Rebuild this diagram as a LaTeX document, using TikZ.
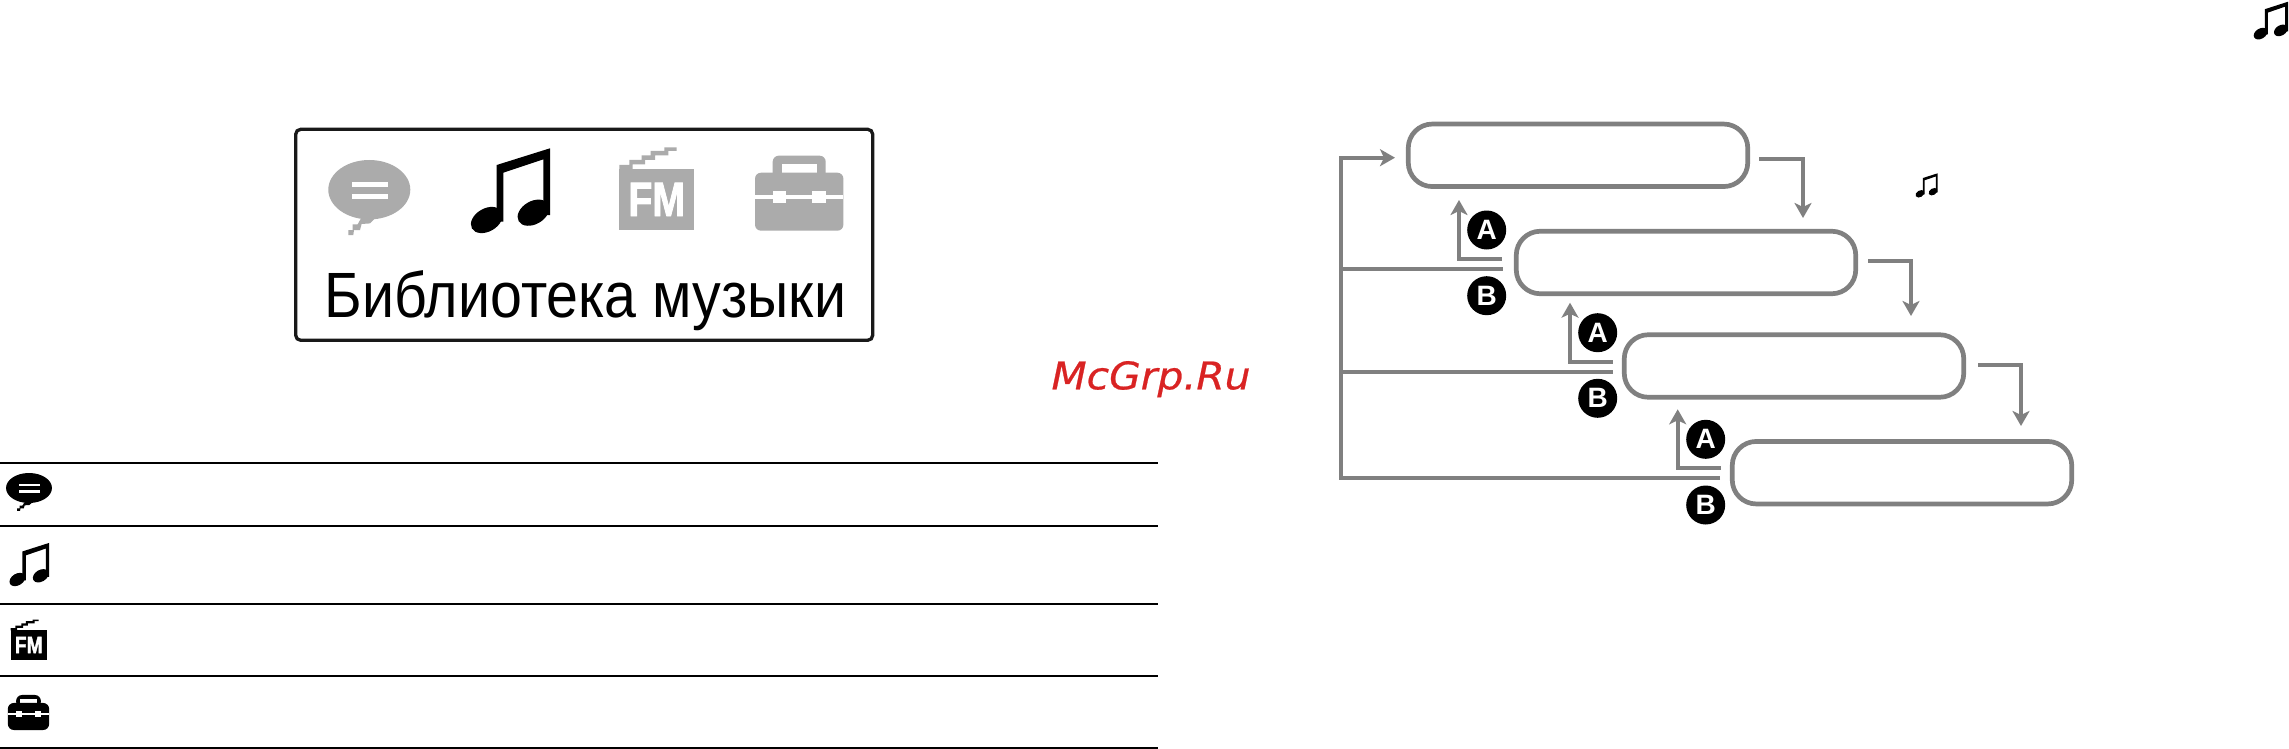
\documentclass[tikz,border=0pt]{standalone}
\usepackage{fontspec}
\setmainfont{Liberation Sans}
\newfontfamily\wmfont[ItalicFeatures={FakeBold=0.6}]{DejaVu Sans}
\newfontfamily\fmfont[BoldFeatures={FakeBold=2}]{Liberation Sans}
\usetikzlibrary{arrows.meta}
\definecolor{icongray}{HTML}{ABABAB}
\definecolor{linegray}{HTML}{808080}
\definecolor{wmred}{HTML}{D92323}
\tikzset{
  x=1pt,y=-1pt,
  stepbox/.style={draw=linegray,line width=4.7pt,rounded corners=24pt,minimum width=339.5pt,minimum height=62.5pt,inner sep=0pt,outer sep=0pt,fill=white},
  conn/.style={draw=linegray,line width=4pt},
  connarrow/.style={conn,-{Stealth[length=15pt,width=17pt,inset=4pt]}},
  badge/.style={circle,fill=black,text=white,minimum size=39pt,inner sep=0pt,font=\fontsize{28}{28}\selectfont\bfseries},
  rule/.style={draw=black,line width=2.4pt},
  noteicon/.pic={
    \fill[pic actions] (-15,-25)--(38.3,-41.7)--(38.3,25)--(31.7,25)--(31.7,-30.7)--(-8.3,-17.3)--(-8.3,31.7)--(-15,31.7)--cycle;
    \fill[pic actions,shift={(-25,30)},rotate=30] (0,0) ellipse [x radius=17,y radius=11.5];
    \fill[pic actions,shift={(21.7,22.7)},rotate=30] (0,0) ellipse [x radius=17,y radius=11.5];
  },
  speechicon/.pic={
    \fill[pic actions] (0,0) ellipse [x radius=41,y radius=29.7];
    \fill[pic actions] (5.7,28.7)--(0.7,33.7)--(-7.7,34.3)--(-9.3,40.3)--(-15.3,40.3)--(-16,45.3)--(-21,45.3)--(-21,40.3)--(-16.7,40.3)--(-16.7,34.7)--(-11.7,34.7)--(-8.3,28.7)--cycle;
    \fill[white] (-17.7,-8) rectangle (19,-3);
    \fill[white] (-17.7,4.7) rectangle (19,9.3);
  },
  fmicon/.pic={
    \fill[pic actions] (-37.3,-30.5) rectangle (37.3,30.5);
    \fill[pic actions] (-37.3,-34.5)--(-27.3,-34.5)--(-27.3,-39.5)--(-15,-39.5)--(-15,-44)--(-6,-44)--(-6,-48.5)--(7.7,-48.5)--(7.7,-52)--(20,-52)--(20,-48.5)--(11.7,-48.5)--(11.7,-44)--(-1.7,-44)--(-1.7,-39.5)--(-11.7,-39.5)--(-11.7,-35)--(-24,-35)--(-24,-30)--(-37.3,-30)--cycle;
    \node[transform shape,text=white,inner sep=0pt,font=\fontsize{48}{48}\selectfont\fmfont\bfseries] (-t) at (0,0) {\resizebox{56.7pt}{\height}{FM}};
  },
  toolicon/.pic={
    \fill[pic actions,rounded corners=6pt] (-26.5,-37.5) rectangle (26.5,-10);
    \fill[white] (-17.5,-29.2) rectangle (17.5,-15);
    \fill[pic actions,rounded corners=6pt] (-44.2,-20.5) rectangle (44.2,37.5);
    \fill[white] (-44.2,1.8) rectangle (44.2,5.8);
    \fill[white] (-26.5,-2.2) rectangle (-13,10.2);
    \fill[white] (13,-2.2) rectangle (26.5,10.2);
  },
}
\begin{document}
\begin{tikzpicture}
\useasboundingbox (0,0) rectangle (2289,749);
\fill[white] (0,0) rectangle (2289,749);

% display panel
\node[draw=black!90,line width=3.3pt,rounded corners=5pt,minimum width=577pt,minimum height=211pt,inner sep=0pt,outer sep=0pt] (panel) at (584.2,234.8) {};
\pic[fill=icongray] (sp0) at (369.3,189.7) {speechicon};
\pic[fill=black] (no0) at (511.7,190) {noteicon};
\pic[fill=icongray] (fm0) at (656.7,199.5) {fmicon};
\pic[fill=icongray] (to0) at (799.2,193.2) {toolicon};
\node[anchor=base,inner sep=0pt,font=\fontsize{64}{64}\selectfont] (title) at (585.5,317.3) {\resizebox{521pt}{\height}{Библиотека музыки}};

% table
\draw[rule] (0,462.7) -- (1158,462.7);
\draw[rule] (0,526) -- (1158,526);
\draw[rule] (0,604) -- (1158,604);
\draw[rule] (0,675.7) -- (1158,675.7);
\draw[rule] (0,747.7) -- (1158,747.7);
\pic[fill=black,xscale=.56,yscale=.505] (sp1) at (29,488) {speechicon};
\pic[fill=black,xscale=.5,yscale=.51] (no1) at (29.9,564.2) {noteicon};
\pic[fill=black,scale=.49] (fm1) at (28.8,645) {fmicon};
\pic[fill=black,scale=.467] (to1) at (28.5,712.5) {toolicon};

% watermark
\node[anchor=base,inner sep=0pt,text=wmred,font=\fontsize{38}{38}\selectfont\wmfont\itshape] (wm) at (1151,389.3) {\resizebox{199pt}{\height}{McGrp.Ru}};

% single notes
\pic[fill=black,xscale=.28,yscale=.286] (no2) at (1927,185.2) {noteicon};
\pic[fill=black,xscale=.434,yscale=.445] (no3) at (2271.4,20.3) {noteicon};

% steps
\node[stepbox] (b1) at (1578,155.3) {};
\node[stepbox] (b2) at (1686,262.5) {};
\node[stepbox] (b3) at (1794,366) {};
\node[stepbox] (b4) at (1902,472.7) {};

\node[badge] (a1) at (1486.7,230) {A};
\node[badge] (x1) at (1486.7,295.7) {B};
\node[badge] (a2) at (1597.7,332.7) {A};
\node[badge] (x2) at (1597.7,398.3) {B};
\node[badge] (a3) at (1705.7,439.3) {A};
\node[badge] (x3) at (1705.7,505) {B};

% free connector ends
\coordinate (in1) at (1395,157.7);
\coordinate (rail3) at (1720,478);
\coordinate (rail2) at (1612.7,372);
\coordinate (rail1) at (1502.7,269);
\coordinate (up1s) at (1502,259);
\coordinate (up1e) at (1459,200);
\coordinate (up2s) at (1612.7,361.7);
\coordinate (up2e) at (1570,302.7);
\coordinate (up3s) at (1721,467.7);
\coordinate (up3e) at (1677.7,409.3);
\coordinate (dn1s) at (1759,159);
\coordinate (dn1e) at (1803,218);
\coordinate (dn2s) at (1868,261);
\coordinate (dn2e) at (1911,316);
\coordinate (dn3s) at (1978,365);
\coordinate (dn3e) at (2021,426);

\draw[connarrow] (rail3) -- (1341,478) -- (1341,157.7) -- (in1);
\draw[conn] (rail1) -- (1341,269);
\draw[conn] (rail2) -- (1341,372);
\draw[connarrow] (up1s) -| (up1e);
\draw[connarrow] (up2s) -| (up2e);
\draw[connarrow] (up3s) -| (up3e);
\draw[connarrow] (dn1s) -| (dn1e);
\draw[connarrow] (dn2s) -| (dn2e);
\draw[connarrow] (dn3s) -| (dn3e);
\end{tikzpicture}
\end{document}
